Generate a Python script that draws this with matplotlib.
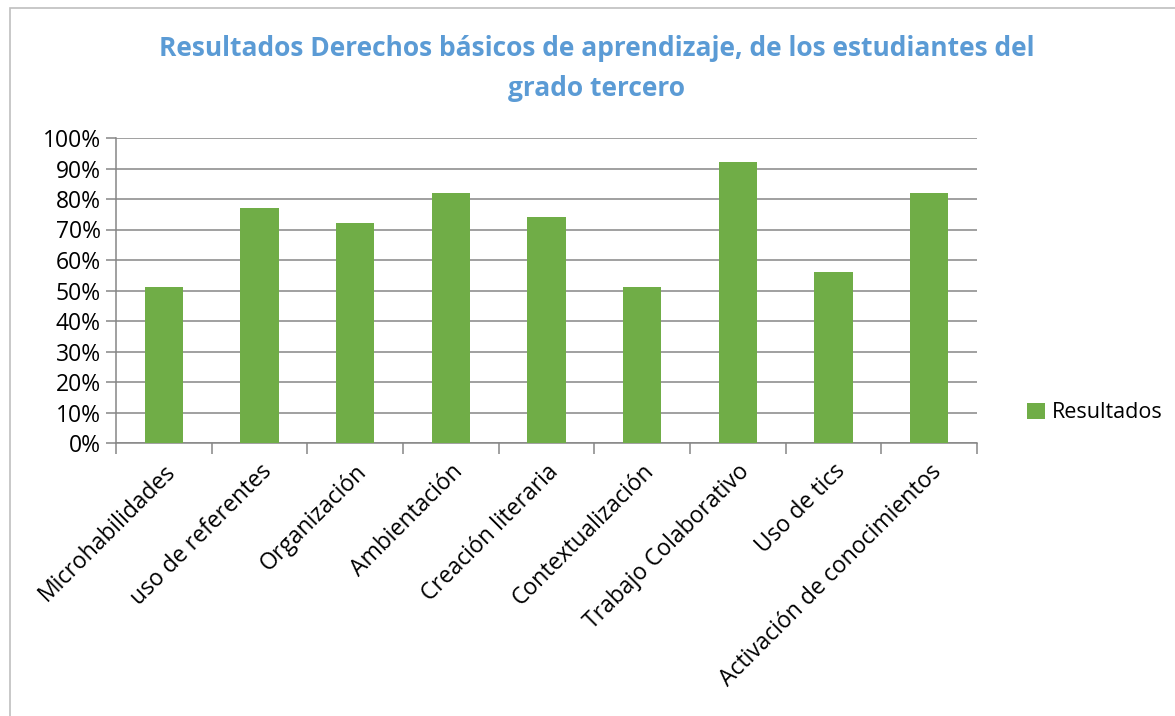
import matplotlib.pyplot as plt
import matplotlib.patches as mpatches
import numpy as np

categorias = ['Microhabilidades', 'uso de referentes', 'Organización', 'Ambientación',
              'Creación literaria', 'Contextualización', 'Trabajo Colaborativo',
              'Uso de tics', 'Activación de conocimientos']
resultados = [0.51, 0.77, 0.72, 0.82, 0.74, 0.51, 0.92, 0.56, 0.82]
yticks = [0, 0.1, 0.2, 0.3, 0.4, 0.5, 0.6, 0.7, 0.8, 0.9, 1.0]
ytick_labels = ['0%', '10%', '20%', '30%', '40%', '50%', '60%', '70%', '80%', '90%', '100%']

plt.rcParams['font.family'] = ['Open Sans', 'DejaVu Sans']

verde = '#70AD47'
gris = '#868686'

fig = plt.figure(figsize=(11.75, 7.16), dpi=100)
ax = fig.add_axes([116/1175, 1-443/716, (977-116)/1175, (443-138)/716])

# marco del grafico
fig.patches.append(mpatches.Rectangle((10/1175, -0.05), 1.2, 1-8/716+0.05,
                                      transform=fig.transFigure, fill=False,
                                      edgecolor='#BFBFBF', lw=1.2))

x = np.arange(len(categorias))
ax.bar(x, resultados, width=0.4, color=verde, zorder=3, label='Resultados')

ax.set_xlim(-0.5, len(categorias)-0.5)
ax.set_ylim(0, 1.0)
ax.set_yticks(yticks)
ax.set_yticklabels(ytick_labels, fontsize=16.5)
ax.yaxis.grid(True, color=gris, lw=1.1, zorder=0)
ax.tick_params(axis='y', length=7, color=gris, width=1.1, pad=4)

ax.set_xticks(x)
ax.set_xticklabels(categorias, rotation=45, ha='right', rotation_mode='anchor',
                   fontsize=16.5)
ax.tick_params(axis='x', length=0, pad=12)
ax.set_xticks(np.arange(len(categorias)+1)-0.5, minor=True)
ax.tick_params(axis='x', which='minor', length=8, color=gris, width=1.1)

for s in ['top', 'right']:
    ax.spines[s].set_visible(False)
for s in ['left', 'bottom']:
    ax.spines[s].set_color(gris)
    ax.spines[s].set_linewidth(1.1)

fig.text(597/1175, 1-48/716, 'Resultados Derechos básicos de aprendizaje, de los estudiantes del',
         ha='center', va='center', fontsize=19, fontweight='bold', color='#5B9BD5')
fig.text(597/1175, 1-89/716, 'grado tercero',
         ha='center', va='center', fontsize=19, fontweight='bold', color='#5B9BD5')

fig.legend(loc='center left', bbox_to_anchor=(1008/1175, 1-413/716), frameon=False,
           fontsize=15.5, handlelength=0.8, handleheight=0.8, handletextpad=0.35)

plt.savefig('out.png', dpi=100)
